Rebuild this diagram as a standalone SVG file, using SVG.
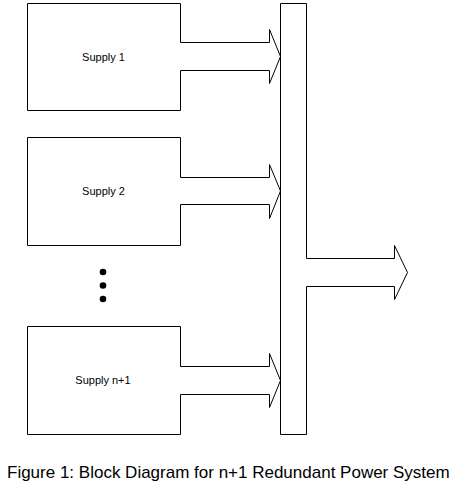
<svg xmlns="http://www.w3.org/2000/svg" width="460" height="494" viewBox="0 0 460 494">
<style>
.ln{fill:none;stroke:#000;stroke-width:1}
.lbl{font-family:"Liberation Sans",Arial,sans-serif;font-size:11px;fill:#000;text-anchor:middle}
.cap{font-family:"Liberation Sans",Arial,sans-serif;font-size:17px;fill:#000}
</style>
<rect width="460" height="494" fill="#fff"/>
<g id="supply1">
<path class="ln" d="M180.5,42.5 V3.5 H27.5 V110.5 H180.5 V70.5"/>
<text class="lbl" x="103.5" y="61">Supply 1</text>
</g>
<g id="supply2">
<path class="ln" d="M180.5,177.5 V137.5 H27.5 V245.5 H180.5 V204.5"/>
<text class="lbl" x="103.5" y="195">Supply 2</text>
</g>
<g id="ellipsis">
<circle cx="103" cy="272" r="3.3"/>
<circle cx="103" cy="285.5" r="3.3"/>
<circle cx="103" cy="299" r="3.3"/>
</g>
<g id="supplyn1">
<path class="ln" d="M180.5,366.5 V326.5 H27.5 V434.5 H180.5 V394.5"/>
<text class="lbl" x="103" y="384">Supply n+1</text>
</g>
<g id="bus">
<path class="ln" d="M306.5,258.5 V3.5 H280.5 V434.5 H306.5 V286.5"/>
</g>
<g id="connectors">
<polyline class="ln" points="180.5,42.5 269.5,42.5 269.5,29.5 280.5,56.5 269.5,83.5 269.5,70.5 180.5,70.5"/>
<polyline class="ln" points="180.5,177.5 269.5,177.5 269.5,164.5 280.5,191 269.5,218.5 269.5,204.5 180.5,204.5"/>
<polyline class="ln" points="180.5,366.5 269.5,366.5 269.5,353.5 280.5,380.5 269.5,407.5 269.5,394.5 180.5,394.5"/>
<polyline class="ln" points="306.5,258.5 394.5,258.5 394.5,245.5 407.5,272.5 394.5,299.5 394.5,286.5 306.5,286.5"/>
</g>
<text class="cap" x="7" y="478">Figure 1: Block Diagram for n+1 Redundant Power System</text>
</svg>
